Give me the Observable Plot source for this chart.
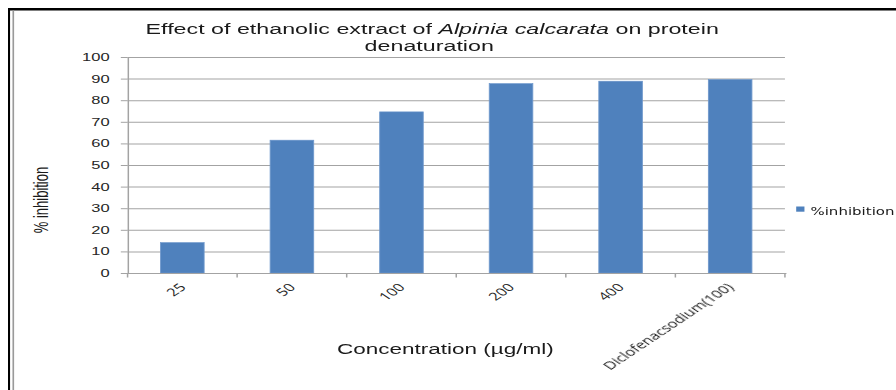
<!DOCTYPE html>
<html>
<head>
<meta charset="utf-8">
<script src="https://cdn.jsdelivr.net/npm/d3@7"></script>
<script src="https://cdn.jsdelivr.net/npm/@observablehq/plot@0.6"></script>
<style>
  html, body { margin: 0; padding: 0; background: #fff; overflow: hidden; }
  #chart { width: 597px; height: 390px; transform-origin: 0 0; }
</style>
</head>
<body>
<div id="chart"></div>
<script>
// Protein denaturation inhibition by concentration
const concentrations = ["25", "50", "100", "200", "400", "Diclofenacsodium(100)"];
const inhibition = [14.1, 61.5, 74.6, 87.7, 88.8, 89.6];
const yTicks = [0, 10, 20, 30, 40, 50, 60, 70, 80, 90, 100];
const seriesName = "%inhibition";
const barColor = "#4F81BD";

// The chart is laid out narrow and widened horizontally as a whole.
const W = 597, H = 390, STRETCH = 896 / W;
const gridColor = "#a3a3a3";

const rows = concentrations.map((c, i) => ({concentration: c, value: inhibition[i]}));

const chart = Plot.plot({
  width: W,
  height: H,
  marginLeft: 85,
  marginRight: 74,
  marginTop: 57,
  marginBottom: 117,
  style: {fontFamily: "'Liberation Sans', Arial, sans-serif", fontSize: "11px", color: "#262626", background: "#fff", overflow: "visible"},
  x: {domain: concentrations, paddingInner: 0.6, paddingOuter: 0.3, label: null, axis: null},
  y: {domain: [0, 100], label: null, axis: null},
  marks: [
    Plot.gridY(yTicks, {stroke: gridColor, strokeOpacity: 1, strokeWidth: 1}),
    Plot.barY(rows, {x: "concentration", y: "value", fill: barColor, stroke: "#6f98cc", strokeWidth: 0.6}),
    Plot.frame({anchor: "left", stroke: gridColor}),
    Plot.frame({anchor: "bottom", stroke: gridColor}),
    Plot.axisY(yTicks, {tickSize: 4.5, tickPadding: 8, stroke: gridColor, fill: "#262626", fontSize: 11, label: null}),
    Plot.axisX({tickSize: 0, tickPadding: 12, tickRotate: -45, fill: "#262626", fontFamily: "'Open Sans', sans-serif", fontSize: 11, label: null})
  ]
});

document.getElementById("chart").append(chart);
document.getElementById("chart").style.transform = `scaleX(${STRETCH})`;

const svg = d3.select(chart);
const xs = chart.scale("x");
const ys = chart.scale("y");
const y0 = ys.apply(0);

// Category boundary ticks below the x axis
const step = xs.step ?? (xs.range[1] - xs.range[0]) / concentrations.length;
const firstEdge = xs.apply(concentrations[0]) - (step - xs.bandwidth) / 2;
svg.append("g")
  .selectAll("line")
  .data(d3.range(concentrations.length + 1))
  .join("line")
  .attr("x1", i => firstEdge + i * step)
  .attr("x2", i => firstEdge + i * step)
  .attr("y1", y0)
  .attr("y2", y0 + 4.5)
  .attr("stroke", gridColor);

// Title
const title = svg.append("text")
  .attr("x", 288).attr("y", 34)
  .attr("text-anchor", "middle")
  .attr("fill", "#1a1a1a")
  .style("font", "15.5px 'Liberation Sans', Arial, sans-serif");
title.append("tspan").text("Effect of ethanolic extract of ");
title.append("tspan").style("font-style", "italic").text("Alpinia calcarata");
title.append("tspan").text(" on protein");
svg.append("text")
  .attr("x", 286).attr("y", 51.5)
  .attr("text-anchor", "middle")
  .attr("fill", "#1a1a1a")
  .style("font", "15.5px 'Liberation Sans', Arial, sans-serif")
  .text("denaturation");

// Axis titles
svg.append("text")
  .attr("transform", "translate(32,200) rotate(-90)")
  .attr("text-anchor", "middle")
  .attr("fill", "#1a1a1a")
  .style("font", "13px 'Liberation Sans', Arial, sans-serif")
  .text("% inhibition");
svg.append("text")
  .attr("x", 296.7).attr("y", 354)
  .attr("text-anchor", "middle")
  .attr("fill", "#1a1a1a")
  .style("font", "15px 'Liberation Sans', Arial, sans-serif")
  .text("Concentration (µg/ml)");

// Legend
svg.append("rect")
  .attr("x", 530.5).attr("y", 206.5)
  .attr("width", 5.5).attr("height", 5.2)
  .attr("fill", barColor);
svg.append("text")
  .attr("x", 540).attr("y", 215)
  .attr("text-anchor", "start")
  .attr("fill", "#1a1a1a")
  .style("font", "10px 'DejaVu Sans', Verdana, sans-serif")
  .text(seriesName);

// Outer border
svg.append("rect").attr("x", 5.3).attr("y", 8).attr("width", W).attr("height", 2.5).attr("fill", "#000");
svg.append("rect").attr("x", 5.3).attr("y", 8).attr("width", 1.4).attr("height", H).attr("fill", "#000");
svg.append("rect").attr("x", 8.3).attr("y", 10.5).attr("width", 1.1).attr("height", H).attr("fill", "#9a9a9a");
</script>
</body>
</html>
